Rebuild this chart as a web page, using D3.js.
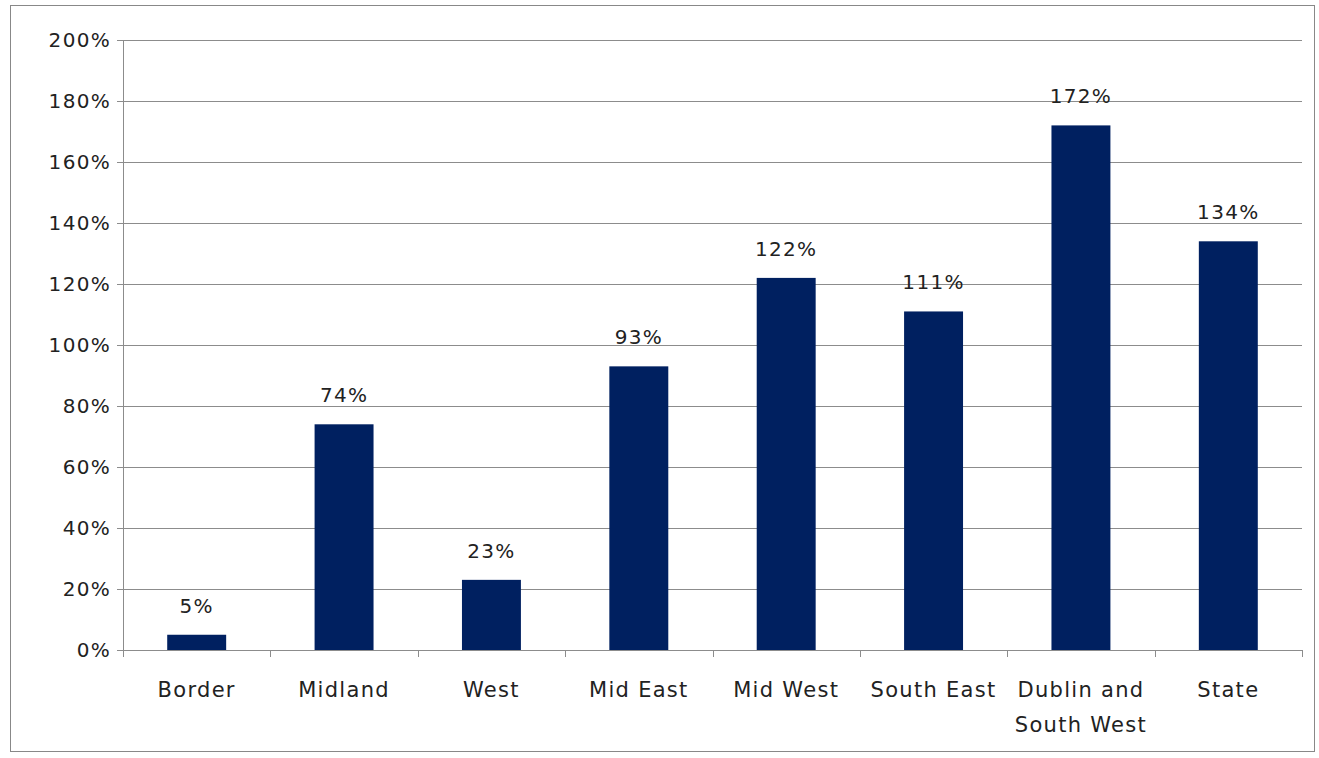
<!DOCTYPE html>
<html>
<head>
<meta charset="UTF-8">
<script src="https://cdn.jsdelivr.net/npm/d3@7"></script>
<style>
  body { margin: 0; background: #fff; }
  text { font-family: "DejaVu Sans", sans-serif; fill: #222; letter-spacing: 1.3px; }
</style>
</head>
<body>
<svg id="chart" width="1319" height="758"></svg>
<script>
var categories = [["Border"], ["Midland"], ["West"], ["Mid East"], ["Mid West"], ["South East"], ["Dublin and", "South West"], ["State"]];
var values = [5, 74, 23, 93, 122, 111, 172, 134];
var yTicks = [0, 20, 40, 60, 80, 100, 120, 140, 160, 180, 200];

var svg = d3.select("#chart");
var m = {left: 123, right: 1302, top: 40, bottom: 650};

svg.append("rect").attr("x", 10.5).attr("y", 5.5).attr("width", 1304).attr("height", 746)
    .attr("fill", "none").attr("stroke", "#888");

var x = d3.scaleBand().domain(d3.range(categories.length)).range([m.left, m.right]).paddingInner(0.6).paddingOuter(0.3);
var band = (m.right - m.left) / categories.length;
var y = d3.scaleLinear().domain([0, 200]).range([m.bottom, m.top]);

// grid
svg.append("g").selectAll("line").data(yTicks).join("line")
    .attr("x1", m.left - 6).attr("x2", m.right)
    .attr("y1", function(d){ return Math.round(y(d)) + 0.5; })
    .attr("y2", function(d){ return Math.round(y(d)) + 0.5; })
    .attr("stroke", "#8c8c8c").attr("stroke-width", 1);

svg.append("line").attr("x1", m.left + 0.5).attr("x2", m.left + 0.5)
    .attr("y1", m.top).attr("y2", m.bottom).attr("stroke", "#8c8c8c");

svg.append("g").selectAll("text").data(yTicks).join("text")
    .attr("x", m.left - 12).attr("y", function(d){ return y(d); }).attr("dy", "0.35em")
    .attr("text-anchor", "end").attr("font-size", 20)
    .text(function(d){ return d + "%"; });

// x ticks
svg.append("g").selectAll("line").data(d3.range(categories.length + 1)).join("line")
    .attr("x1", function(i){ return Math.round(m.left + i * band) + 0.5; })
    .attr("x2", function(i){ return Math.round(m.left + i * band) + 0.5; })
    .attr("y1", m.bottom).attr("y2", m.bottom + 7).attr("stroke", "#8c8c8c");

// bars
svg.append("g").selectAll("rect").data(values).join("rect")
    .attr("x", function(d, i){ return x(i); })
    .attr("width", x.bandwidth())
    .attr("y", function(d){ return y(d); })
    .attr("height", function(d){ return y(0) - y(d); })
    .attr("fill", "#002060");

svg.append("g").selectAll("text").data(values).join("text")
    .attr("x", function(d, i){ return x(i) + x.bandwidth() / 2; })
    .attr("y", function(d){ return y(d) - 22; })
    .attr("text-anchor", "middle").attr("font-size", 20)
    .text(function(d){ return d + "%"; });

// category labels
svg.append("g").selectAll("text").data(categories).join("text")
    .attr("text-anchor", "middle").attr("font-size", 21)
    .attr("x", function(d, i){ return x(i) + x.bandwidth() / 2; })
    .attr("y", 697)
    .each(function(d){
        var t = d3.select(this);
        d.forEach(function(line, j){
            t.append("tspan").attr("x", t.attr("x")).attr("dy", j ? 35 : 0).text(line);
        });
    });
</script>
</body>
</html>
